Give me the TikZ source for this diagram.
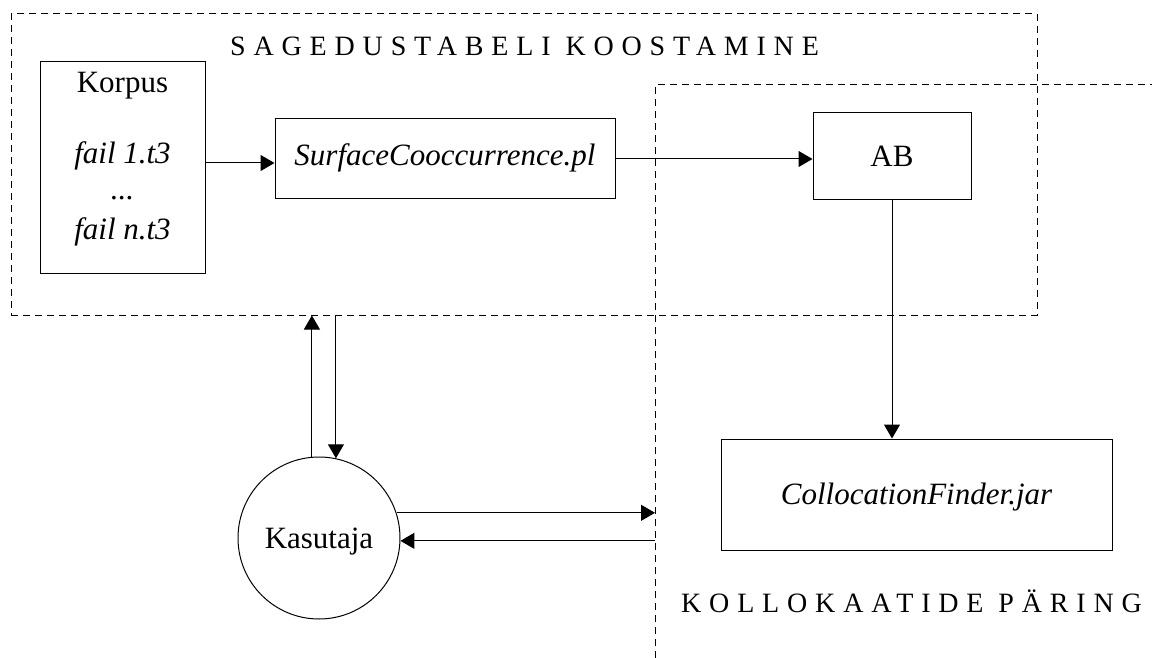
\documentclass[tikz,border=0pt]{standalone}
\usepackage{fontspec}
\setmainfont{Liberation Serif}
\newfontfamily\spacedfont{Liberation Serif}[LetterSpace=28]
\usetikzlibrary{arrows.meta,calc}
\begin{document}
\begin{tikzpicture}[x=1pt,y=-1pt,
  box/.style={draw, line width=1pt, font=\fontsize{31}{37}\selectfont, text height=20.5pt, text depth=0pt, inner sep=0pt},
  lbl/.style={font=\fontsize{31}{37}\selectfont, anchor=base, inner sep=0pt},
  titlelbl/.style={font=\spacedfont\fontsize{28}{34}\selectfont, anchor=base west, inner sep=0pt},
  region/.style={draw, line width=1pt, dash pattern=on 7pt off 5pt},
  conn/.style={line width=1pt, -{Triangle[length=14pt,width=16pt]}},
]
\useasboundingbox (0,0) rectangle (1152,658);

% region 1
\node[region, minimum width=1026pt, minimum height=301pt, inner sep=0pt] (sage) at (524,164.5) {};
\node[titlelbl] (t1) at (230,56) {SAGEDUSTABELI KOOSTAMINE};

% region 2
\coordinate (p0) at (655,658);
\coordinate (p1) at (655,85);
\coordinate (p2) at (1152,85);
\draw[region] (p0) -- (p1) -- (p2);
\node[titlelbl] (t2) at (681,612) {KOLLOKAATIDE PÄRING};

% Korpus
\node[box, minimum width=165pt, minimum height=211pt] (korpus) at (122.5,167.5) {};
\node[lbl] (k1) at (122.5,93) {Korpus};
\node[lbl] (k2) at (122.5,164) {\itshape fail 1.t3};
\node[lbl] (k3) at (122.5,200) {\itshape ...};
\node[lbl] (k4) at (122.5,239) {\itshape fail n.t3};

% boxes
\node[box, text depth=8pt, minimum width=340pt, minimum height=80pt] (surface) at (445,159) {\itshape SurfaceCooccurrence.pl};
\node[box, minimum width=158pt, minimum height=87pt] (ab) at (892,156.5) {AB};
\node[box, minimum width=391pt, minimum height=111pt] (coll) at (916.5,494.5) {\itshape CollocationFinder.jar};
\node[box, circle, minimum size=162pt] (kas) at (319,538) {Kasutaja};

% connectors
\coordinate (ka) at ($(korpus.east)+(0,-4.5)$);
\draw[conn] (ka) -- (ka -| surface.west);
\draw[conn] (surface.east) -- (surface.east -| ab.west);
\draw[conn] (ab.south) -- (ab.south |- coll.north);
\draw[conn] (kas.95.7) -- (kas.95.7 |- sage.south);
\draw[conn] (kas.78.6 |- sage.south) -- (kas.78.6);
\draw[conn] (kas.18.7) -- (kas.18.7 -| p1);
\draw[conn] (kas.-2.1 -| p1) -- (kas.-2.1);
\end{tikzpicture}
\end{document}
